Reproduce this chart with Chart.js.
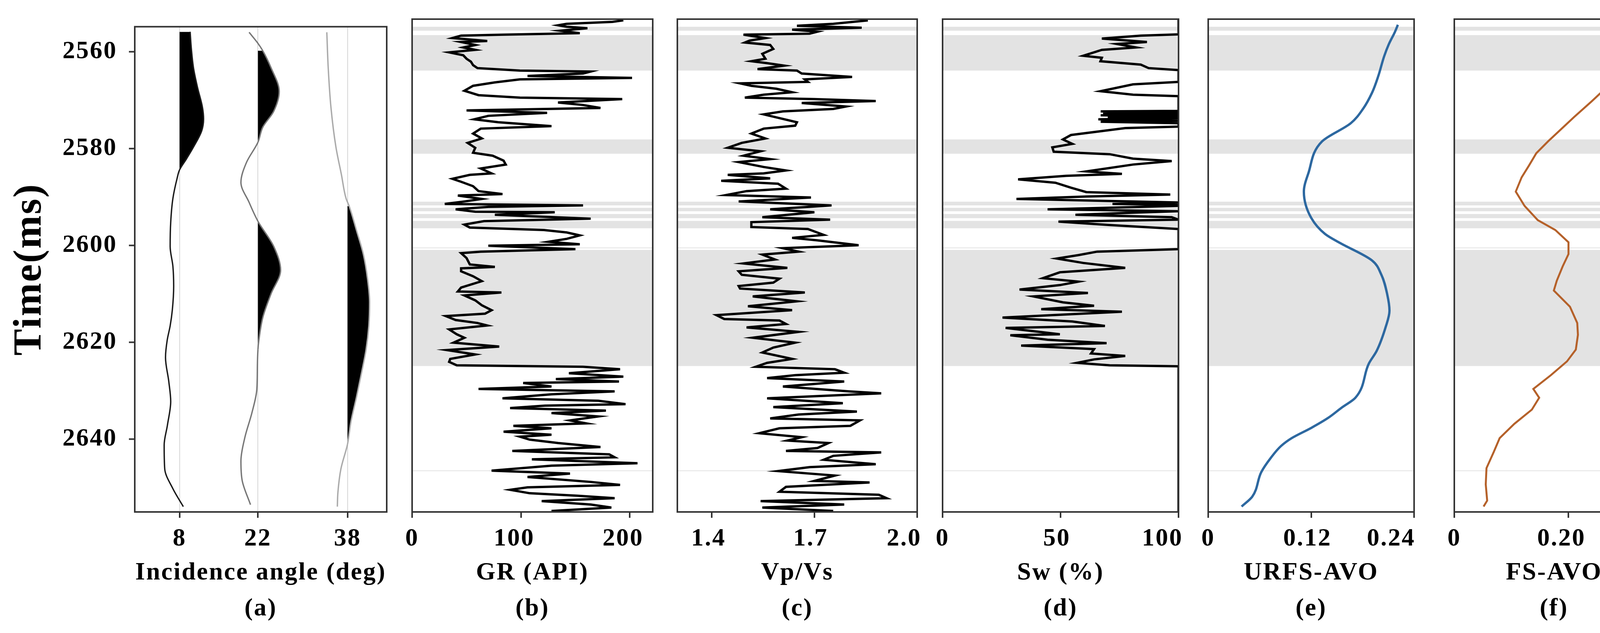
<!DOCTYPE html>
<html>
<head>
<meta charset="utf-8">
<title>Log panels</title>
<script src="https://cdn.jsdelivr.net/npm/chart.js@4.4.1/dist/chart.umd.min.js"></script>
<style>
  html, body { margin: 0; padding: 0; background: #fff; }
  #page { position: relative; width: 4345px; height: 1621px; overflow: hidden; background: #fff; }
  #page canvas { position: absolute; top: 0; }
</style>
</head>
<body>
<div id="page"></div>
<script>
// time axis (ms), shared by all panels
var timeMin = 2554.85;
var timeMax = 2655;
var timeTicks = [2560, 2580, 2600, 2620, 2640];

// gray zones drawn in panels b-f
var zoneTop    = [2556.4, 2558.1, 2579.3, 2591.95, 2593.2, 2594.45, 2595.85, 2601.25, 2601.75, 2646.55];
var zoneBottom = [2557.2, 2565.3, 2582.2, 2592.7,  2593.9, 2595.3,  2597.35, 2601.35, 2625.35, 2646.65];

// (a) angle gather, amplitude in degrees around each trace
var angleTicks = [8, 22, 38];
var trace8Time = [2555.9, 2559.2, 2563.3, 2567.4, 2571.5, 2573.9, 2576.4, 2579.7, 2582.1, 2584.4, 2586.2, 2590.3, 2595.2, 2600.2, 2604.3, 2608.4, 2613.3, 2616.6, 2619.5, 2623.1, 2628.1, 2632.2, 2637.1, 2641.2, 2646.1, 2650.2, 2653.9];
var trace8Amp  = [1.89, 2.09, 2.48, 3.21, 4.09, 4.29, 3.94, 2.48, 1.25, 0, -0.45, -1.19, -1.58, -1.68, -1.19, -1.05, -1.29, -1.68, -2.2, -2.51, -1.92, -1.58, -2.17, -2.75, -2.65, -1.19, 0.67];
var trace22Time = [2556.0, 2558.2, 2559.8, 2563.3, 2568.2, 2572.3, 2575.6, 2578.7, 2582.9, 2587.0, 2591.1, 2595.0, 2600.2, 2605.1, 2610.0, 2614.9, 2619.9, 2621.5, 2624.8, 2629.7, 2634.6, 2639.5, 2644.5, 2648.6, 2653.5];
var trace22Amp  = [-1.58, -0.05, 0.86, 2.33, 3.80, 2.82, 0.86, 0, -2.06, -3.04, -1.58, 0, 2.82, 4.05, 2.33, 0.86, 0.13, 0, -0.1, -0.2, -1.09, -2.31, -3.04, -2.8, -1.33];
var trace38Time = [2556.0, 2563.3, 2571.5, 2579.7, 2585.4, 2590.3, 2591.9, 2596.9, 2601.8, 2606.7, 2611.7, 2616.6, 2621.5, 2626.4, 2631.3, 2636.3, 2641.0, 2646.1, 2651.0, 2653.9];
var trace38Amp  = [-3.70, -3.45, -2.96, -2.07, -1.09, -0.26, 0.3, 1.6, 2.82, 3.55, 3.94, 3.80, 3.31, 2.48, 1.6, 0.62, 0, -1.18, -1.72, -1.82];

// (b) GR (API)
var grTime = [2555.1, 2555.4, 2555.8, 2556.1, 2556.4, 2556.7, 2557.2, 2557.7, 2558.0, 2558.2, 2558.7, 2559.3, 2559.5, 2560.1, 2560.6, 2561.1, 2561.6, 2562.2, 2562.9, 2563.5, 2564.2, 2564.8, 2565.3, 2565.5, 2565.9, 2566.4, 2566.8, 2567.1, 2567.7, 2568.4, 2569.4, 2570.3, 2570.8, 2571.1, 2571.8, 2572.3, 2572.9, 2573.4, 2573.9, 2574.5, 2575.2, 2575.8, 2576.6, 2577.1, 2578.1, 2579.1, 2580.0, 2581.0, 2582.0, 2582.6, 2583.6, 2584.4, 2585.2, 2586.2, 2586.5, 2587.3, 2587.9, 2588.8, 2589.8, 2590.4, 2590.7, 2591.4, 2591.9, 2592.4, 2592.7, 2593.0, 2593.5, 2594.0, 2594.1, 2594.6, 2595.4, 2595.9, 2596.6, 2597.2, 2597.7, 2598.2, 2598.8, 2599.5, 2600.1, 2600.6, 2600.9, 2601.6, 2602.1, 2602.4, 2603.4, 2604.7, 2605.2, 2605.5, 2606.1, 2607.1, 2608.1, 2609.4, 2610.2, 2610.4, 2611.0, 2612.0, 2613.0, 2614.0, 2614.7, 2615.2, 2616.0, 2616.6, 2617.1, 2617.9, 2618.9, 2619.6, 2620.6, 2621.4, 2622.1, 2623.0, 2623.9, 2624.5, 2625.2, 2625.5, 2626.0, 2626.8, 2627.5, 2628.0, 2628.5, 2628.8, 2629.5, 2630.0, 2630.5, 2631.1, 2631.9, 2632.4, 2633.1, 2633.4, 2633.9, 2634.4, 2634.9, 2635.6, 2636.4, 2637.0, 2637.5, 2638.0, 2638.7, 2639.3, 2639.7, 2640.3, 2641.0, 2641.8, 2642.6, 2643.3, 2643.9, 2644.3, 2645.1, 2645.6, 2646.6, 2647.2, 2647.9, 2648.9, 2649.5, 2650.0, 2650.5, 2651.2, 2651.7, 2652.2, 2652.8, 2653.5, 2654.1, 2654.8];
var grValue = [194, 184, 142, 134, 142, 161, 136, 154, 84, 45, 37, 69, 45, 58, 47, 58, 34, 47, 50, 54, 56, 60, 99, 164, 157, 106, 202, 99, 76, 56, 48, 61, 99, 193, 134, 157, 173, 50, 124, 70, 57, 79, 128, 63, 56, 64, 51, 58, 56, 74, 84, 86, 63, 73, 53, 37, 45, 56, 61, 83, 42, 64, 48, 30, 157, 70, 40, 58, 131, 76, 164, 66, 48, 53, 121, 142, 154, 142, 125, 154, 70, 150, 63, 45, 50, 53, 76, 45, 45, 56, 64, 45, 42, 82, 48, 58, 64, 73, 67, 31, 40, 60, 69, 34, 41, 48, 38, 80, 32, 58, 35, 34, 41, 157, 191, 144, 194, 132, 190, 102, 128, 61, 186, 128, 83, 171, 196, 122, 90, 178, 128, 171, 145, 160, 93, 128, 84, 128, 99, 108, 134, 173, 92, 181, 186, 110, 207, 128, 73, 145, 106, 164, 191, 106, 90, 108, 152, 186, 119, 164, 183, 128];

// (c) Vp/Vs
var vpvsTime = [2555.1, 2555.8, 2556.2, 2556.6, 2557.0, 2557.4, 2557.8, 2558.0, 2558.7, 2559.2, 2559.6, 2560.1, 2560.9, 2561.9, 2562.9, 2563.4, 2563.8, 2564.3, 2565.0, 2565.3, 2565.9, 2566.6, 2567.1, 2567.6, 2567.9, 2568.4, 2569.0, 2569.7, 2570.2, 2570.8, 2571.1, 2571.5, 2571.9, 2572.6, 2573.1, 2573.6, 2574.2, 2574.9, 2575.8, 2576.5, 2577.1, 2578.1, 2579.1, 2580.0, 2581.0, 2581.7, 2582.6, 2583.3, 2583.9, 2584.9, 2585.6, 2586.2, 2586.5, 2587.2, 2587.7, 2588.3, 2589.3, 2589.8, 2590.6, 2591.1, 2591.9, 2592.7, 2593.5, 2594.1, 2595.1, 2595.6, 2596.1, 2597.1, 2597.5, 2598.7, 2599.3, 2599.8, 2600.8, 2601.4, 2602.1, 2602.7, 2603.7, 2604.5, 2605.4, 2606.1, 2606.8, 2607.6, 2608.4, 2609.1, 2609.6, 2610.4, 2611.2, 2612.2, 2613.2, 2614.0, 2615.0, 2615.8, 2616.1, 2616.8, 2617.5, 2618.4, 2619.6, 2620.6, 2621.6, 2622.6, 2623.9, 2624.7, 2625.5, 2626.0, 2626.7, 2627.2, 2627.8, 2628.5, 2629.5, 2630.5, 2630.9, 2631.9, 2632.9, 2633.7, 2634.6, 2635.2, 2636.0, 2636.4, 2637.5, 2638.0, 2639.0, 2639.8, 2640.5, 2641.0, 2642.0, 2642.6, 2642.9, 2643.6, 2644.4, 2645.3, 2645.9, 2646.7, 2647.6, 2648.7, 2649.0, 2649.9, 2650.9, 2651.5, 2652.2, 2652.8, 2653.5, 2654.1, 2654.8];
var vpvsValue = [1.856, 1.755, 1.649, 1.838, 1.635, 1.709, 1.686, 1.493, 1.557, 1.511, 1.497, 1.571, 1.580, 1.548, 1.557, 1.516, 1.562, 1.612, 1.534, 1.649, 1.663, 1.810, 1.672, 1.681, 1.483, 1.516, 1.589, 1.635, 1.552, 1.497, 1.700, 1.879, 1.663, 1.792, 1.755, 1.608, 1.552, 1.594, 1.649, 1.644, 1.552, 1.516, 1.557, 1.488, 1.447, 1.543, 1.493, 1.571, 1.479, 1.552, 1.617, 1.552, 1.447, 1.571, 1.428, 1.594, 1.617, 1.502, 1.442, 1.690, 1.479, 1.750, 1.571, 1.700, 1.548, 1.746, 1.516, 1.516, 1.681, 1.727, 1.635, 1.709, 1.829, 1.608, 1.654, 1.548, 1.585, 1.493, 1.621, 1.479, 1.488, 1.598, 1.580, 1.479, 1.483, 1.672, 1.520, 1.649, 1.506, 1.635, 1.414, 1.437, 1.598, 1.617, 1.502, 1.654, 1.520, 1.644, 1.580, 1.548, 1.635, 1.562, 1.529, 1.760, 1.787, 1.644, 1.562, 1.787, 1.608, 1.801, 1.895, 1.562, 1.783, 1.580, 1.824, 1.654, 1.571, 1.833, 1.805, 1.598, 1.539, 1.663, 1.621, 1.741, 1.709, 1.617, 1.895, 1.755, 1.727, 1.879, 1.686, 1.594, 1.760, 1.700, 1.861, 1.617, 1.598, 1.888, 1.911, 1.543, 1.787, 1.548, 1.755];

// (d) Sw (%)
var swTime = [2554.85, 2557.95, 2558.2, 2558.8, 2559.5, 2559.9, 2560.6, 2561.1, 2562.3, 2562.7, 2563.4, 2564.1, 2564.8, 2565.2, 2567.6, 2568.1, 2569.5, 2570.2, 2570.5, 2573.5, 2573.6, 2573.8, 2574.0, 2574.2, 2574.4, 2574.6, 2574.8, 2575.0, 2575.2, 2575.5, 2575.7, 2576.0, 2576.7, 2577.0, 2578.4, 2579.3, 2580.2, 2580.9, 2581.8, 2582.3, 2583.2, 2583.7, 2584.4, 2585.8, 2586.3, 2586.7, 2587.4, 2588.1, 2589.1, 2590.0, 2590.5, 2590.9, 2591.4, 2592.1, 2592.4, 2592.6, 2592.8, 2593.5, 2593.9, 2594.2, 2594.6, 2595.1, 2595.6, 2596.0, 2596.7, 2597.5, 2601.6, 2602.1, 2602.8, 2603.5, 2604.4, 2605.4, 2606.3, 2607.5, 2608.2, 2608.9, 2609.8, 2610.5, 2611.2, 2612.4, 2613.1, 2613.8, 2614.3, 2615.5, 2616.3, 2617.2, 2617.6, 2618.9, 2619.1, 2620.0, 2620.7, 2621.2, 2621.9, 2622.8, 2623.3, 2624.0, 2624.7, 2625.2, 2625.4, 2655];
var swValue = [100, 100, 84, 67.5, 86.6, 74, 82, 67.5, 59.6, 67.5, 66.9, 84, 87.3, 100, 100, 80.7, 66.9, 80.7, 100, 100, 67, 100, 68, 100, 67, 100, 70, 100, 66, 100, 67, 100, 100, 77.4, 54.4, 51, 55, 46.5, 47.1, 70.8, 80.7, 97.1, 80.7, 60.9, 76, 52.4, 32, 47.8, 54.4, 60.9, 96.5, 60.9, 31.3, 100, 72, 100, 100, 44.5, 100, 80, 56.3, 97.1, 100, 49.1, 70.8, 100, 100, 65.5, 57.6, 48.4, 59.6, 77.4, 49.7, 42.5, 57.6, 49.7, 32.6, 61.6, 38.5, 51, 64.2, 41.8, 76, 25.4, 55, 68.8, 26.7, 49.7, 28.7, 44.5, 69.5, 33.3, 64.2, 62.9, 77.4, 64.2, 57, 70.8, 100, 100];

// (e) URFS-AVO
var urfsTime = [2556.0, 2557.5, 2560.0, 2562.4, 2566.5, 2569.8, 2573.1, 2576.0, 2579.7, 2586.2, 2589.9, 2595.3, 2598.5, 2600.2, 2603.9, 2606.7, 2610.8, 2614.1, 2617.4, 2622.3, 2624.8, 2631.8, 2633.8, 2635.9, 2637.9, 2640.0, 2641.6, 2644.1, 2646.9, 2651.9, 2653.9];
var urfsValue = [0.2211, 0.2175, 0.2104, 0.2051, 0.1981, 0.1910, 0.1804, 0.1662, 0.1327, 0.1167, 0.1115, 0.1203, 0.1362, 0.1521, 0.1910, 0.2016, 0.2087, 0.2113, 0.2069, 0.1963, 0.1874, 0.1715, 0.1556, 0.1397, 0.1203, 0.0973, 0.0849, 0.0726, 0.0619, 0.0513, 0.0389];

// (f) FS-AVO
var fsTime = [2556.3, 2559.2, 2562.4, 2565.7, 2569.0, 2571.5, 2574.7, 2577.2, 2579.7, 2582.1, 2584.6, 2587.0, 2589.9, 2592.8, 2595.7, 2597.7, 2600.2, 2602.6, 2605.1, 2608.0, 2610.0, 2613.3, 2616.6, 2619.0, 2622.0, 2624.4, 2627.2, 2630.0, 2631.8, 2634.2, 2637.1, 2640.0, 2642.8, 2646.1, 2649.4, 2652.7, 2653.9];
var fsValue = [0.316, 0.3083, 0.2955, 0.2827, 0.2647, 0.2416, 0.2107, 0.1876, 0.1645, 0.1439, 0.1311, 0.1182, 0.1079, 0.1233, 0.1465, 0.1773, 0.2004, 0.2004, 0.1902, 0.1799, 0.1747, 0.203, 0.2158, 0.217, 0.2133, 0.1978, 0.1696, 0.1387, 0.149, 0.1362, 0.1053, 0.0796, 0.0693, 0.0565, 0.0552, 0.0577, 0.0514];

var FONT = "'Liberation Serif', 'Times New Roman', serif";
var H = 1621;
var TOP = 49;
var AXIS_H = 310;

var spacingPlugin = {
  id: 'spacing',
  beforeLayout: function(chart) { chart.ctx.letterSpacing = '3px'; },
  beforeDraw: function(chart) { chart.ctx.letterSpacing = '3px'; }
};

var zonePlugin = {
  id: 'zones',
  beforeDatasetsDraw: function(chart) {
    var ctx = chart.ctx, a = chart.chartArea, y = chart.scales.y;
    ctx.save();
    ctx.fillStyle = '#e3e3e3';
    zoneTop.forEach(function(t0, i) {
      var y0 = y.getPixelForValue(t0);
      var y1 = y.getPixelForValue(zoneBottom[i]);
      ctx.fillRect(a.left, y0, a.right - a.left, Math.max(y1 - y0, 2));
    });
    ctx.restore();
  }
};

var framePlugin = {
  id: 'frame',
  afterDraw: function(chart) {
    var ctx = chart.ctx, a = chart.chartArea;
    ctx.save();
    ctx.strokeStyle = '#333';
    ctx.lineWidth = 4;
    ctx.strokeRect(a.left, a.top, a.right - a.left, a.bottom - a.top);
    ctx.restore();
  }
};

function points(times, values, base) {
  return times.map(function(t, i) { return {x: (base || 0) + values[i], y: t}; });
}

function logSet(times, values, color, width, smooth) {
  return {
    data: points(times, values),
    borderColor: color,
    borderWidth: width,
    pointRadius: 0,
    fill: false,
    cubicInterpolationMode: smooth ? 'monotone' : 'default',
    tension: 0
  };
}

function traceSet(base, times, amps, color) {
  return {
    data: points(times, amps, base),
    borderColor: color,
    borderWidth: 3.5,
    pointRadius: 0,
    cubicInterpolationMode: 'monotone',
    fill: {value: base},
    backgroundColor: 'rgba(0,0,0,0)',
    segment: {
      backgroundColor: function(c) {
        return (c.p0.parsed.x >= base && c.p1.parsed.x >= base) ? '#000' : 'rgba(0,0,0,0)';
      }
    }
  };
}

function makePanel(p) {
  var canvas = document.createElement('canvas');
  var left = p.left - p.padLeft;
  var width = p.padLeft + (p.right - p.left) + p.padRight;
  canvas.width = width;
  canvas.height = H;
  canvas.style.left = left + 'px';
  canvas.style.width = width + 'px';
  canvas.style.height = H + 'px';
  document.getElementById('page').appendChild(canvas);

  var tickFont = {family: FONT, size: 64, weight: 'bold'};
  var plugins = [spacingPlugin, framePlugin];
  if (p.zones) plugins.push(zonePlugin);

  var yScale = {
    type: 'linear',
    reverse: true,
    min: timeMin,
    max: timeMax,
    display: !!p.yAxis,
    afterBuildTicks: function(s) { s.ticks = timeTicks.map(function(v) { return {value: v}; }); },
    ticks: {
      autoSkip: false,
      padding: 30,
      color: '#000',
      font: tickFont,
      callback: function(v) { return String(v); }
    },
    grid: {drawOnChartArea: false, tickColor: '#333', tickLength: 15, tickWidth: 4},
    border: {display: false},
    title: {
      display: true,
      text: 'Time(ms)',
      color: '#000',
      font: {family: FONT, size: 102, weight: 'bold', lineHeight: 1.2},
      padding: {top: 16, bottom: 0}
    }
  };
  if (p.yAxis) yScale.afterFit = function(s) { s.width = p.padLeft; };

  new Chart(canvas, {
    type: 'line',
    data: {datasets: p.datasets},
    plugins: plugins,
    options: {
      responsive: false,
      animation: false,
      devicePixelRatio: 1,
      indexAxis: 'y',
      layout: {
        autoPadding: false,
        padding: {left: p.yAxis ? 0 : p.padLeft, right: p.padRight, top: TOP, bottom: 0}
      },
      plugins: {legend: {display: false}, tooltip: {enabled: false}},
      scales: {
        x: {
          type: 'linear',
          position: 'bottom',
          min: p.min,
          max: p.max,
          afterFit: function(s) { s.height = AXIS_H; },
          afterBuildTicks: function(s) { s.ticks = p.ticks.map(function(v) { return {value: v}; }); },
          ticks: {
            autoSkip: false,
            maxRotation: 0,
            padding: 16,
            color: '#000',
            font: tickFont,
            callback: function(v, i) { return p.labels[i]; }
          },
          grid: {
            drawOnChartArea: !!p.grid,
            color: '#d6d6d6',
            lineWidth: 2,
            tickColor: '#333',
            tickLength: 15,
            tickWidth: 4
          },
          border: {display: false},
          title: {
            display: true,
            text: [p.title, p.sub],
            color: '#000',
            font: {family: FONT, size: 64, weight: 'bold', lineHeight: 1.44},
            padding: {top: 0, bottom: 15}
          }
        },
        y: yScale
      }
    }
  });
}

function init() {
  makePanel({
    left: 345, right: 990, padLeft: 345, padRight: 100, yAxis: true, grid: true,
    min: 0, max: 45, ticks: angleTicks, labels: ['8', '22', '38'],
    title: 'Incidence angle (deg)', sub: '(a)',
    datasets: [
      traceSet(8, trace8Time, trace8Amp, '#1a1a1a'),
      traceSet(22, trace22Time, trace22Amp, '#777777'),
      traceSet(38, trace38Time, trace38Amp, '#aaaaaa')
    ]
  });
  makePanel({
    left: 1055, right: 1671, padLeft: 100, padRight: 100, zones: true,
    min: 0, max: 221, ticks: [0, 100, 200], labels: ['0', '100\u2002', '200\u2002'],
    title: 'GR (API)', sub: '(b)',
    datasets: [logSet(grTime, grValue, '#000', 6)]
  });
  makePanel({
    left: 1734, right: 2348, padLeft: 100, padRight: 100, zones: true,
    min: 1.3, max: 2.0, ticks: [1.4, 1.7, 2.0], labels: ['1.4\u2009', '1.7\u2005', '2.0\u2003'],
    title: 'Vp/Vs', sub: '(c)',
    datasets: [logSet(vpvsTime, vpvsValue, '#000', 6)]
  });
  makePanel({
    left: 2413, right: 3027, padLeft: 100, padRight: 100, zones: true,
    min: 0, max: 100, ticks: [0, 50, 100], labels: ['0', '50\u2005', '100\u2003\u2009'],
    title: 'Sw (%)', sub: '(d)',
    datasets: [logSet(swTime, swValue, '#000', 6)]
  });
  makePanel({
    left: 3093, right: 3657, padLeft: 100, padRight: 100, zones: true,
    min: 0, max: 0.24, ticks: [0, 0.12, 0.24], labels: ['0', '0.12\u2005', '0.24\u2003\u2002\u2009'],
    title: 'URFS-AVO', sub: '(e)',
    datasets: [logSet(urfsTime, urfsValue, '#2d68a0', 6, true)]
  });
  makePanel({
    left: 3723, right: 4286, padLeft: 100, padRight: 59, zones: true,
    min: 0, max: 0.35, ticks: [0, 0.20, 0.35], labels: ['0', '0.20\u2002', '0.35\u2003'],
    title: 'FS-AVO', sub: '(f)',
    datasets: [logSet(fsTime, fsValue, '#b5612a', 5)]
  });
}

init();
</script>
</body>
</html>
